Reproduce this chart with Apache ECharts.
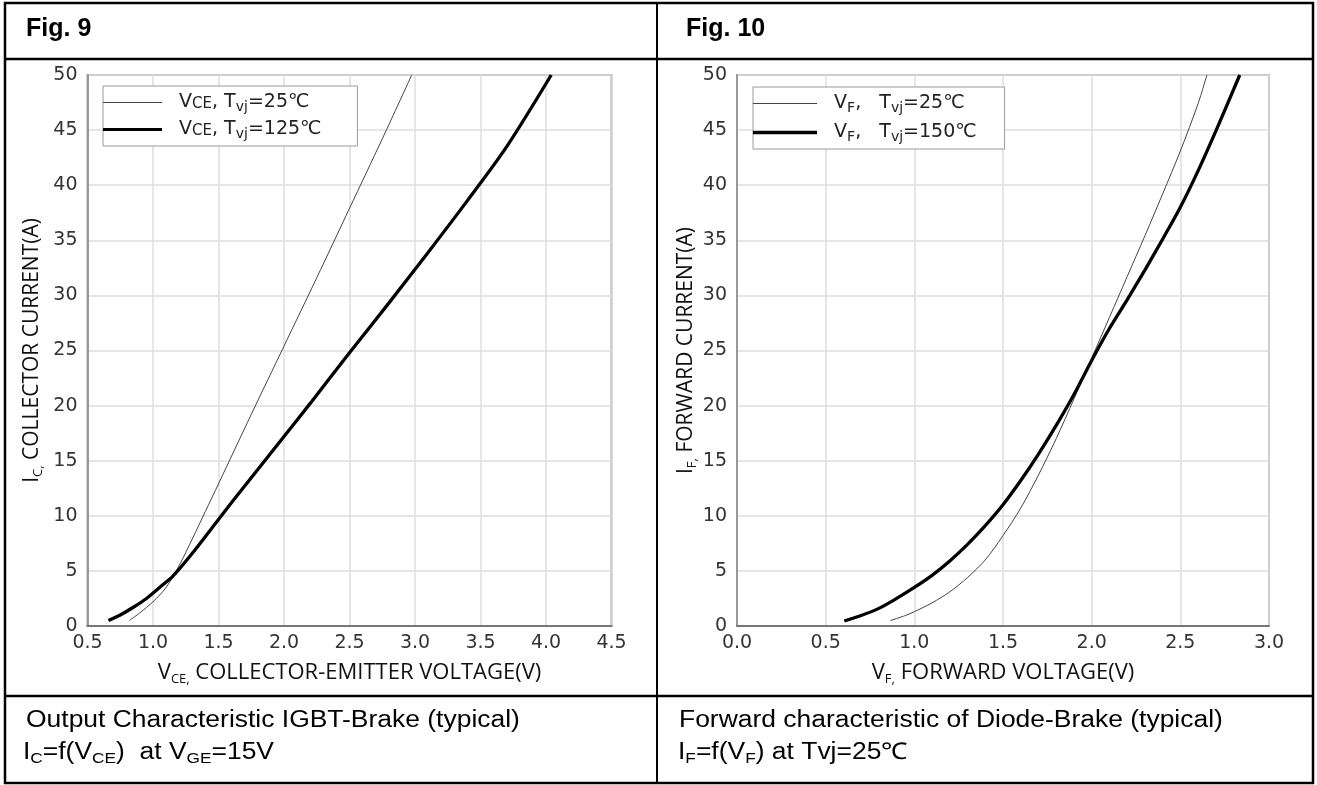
<!DOCTYPE html>
<html>
<head>
<meta charset="utf-8">
<script src="https://cdn.jsdelivr.net/npm/echarts@6/dist/echarts.min.js"></script>
<style>
html,body{margin:0;padding:0;background:#fff;}
#c{width:1317px;height:785px;}
</style>
</head>
<body>
<div id="c"></div>
<script>
// ---------- data ----------
// Fig. 9  IGBT output characteristic  (VCE in V, IC in A)
const igbt25_v  = [0.82,0.9,1.0,1.1,1.2,1.3,1.4,1.5,1.75,2.0,2.25,2.5,2.75,2.975];
const igbt25_i  = [0.5,1.2,2.2,3.5,5.5,7.9,10.4,12.9,19.2,25.4,31.6,37.9,44.2,50];
const igbt125_v = [0.66,0.75,0.85,0.95,1.05,1.15,1.3,1.45,1.6,1.8,2.0,2.2,2.5,2.8,3.1,3.4,3.7,4.04];
const igbt125_i = [0.5,1.0,1.7,2.5,3.5,4.5,6.6,8.9,11.2,14.2,17.2,20.2,24.8,29.3,33.9,38.6,43.5,50];
// Fig. 10  Diode forward characteristic  (VF in V, IF in A)
const diode25_v  = [0.865,0.95,1.0,1.1,1.2,1.3,1.4,1.5,1.6,1.7,1.8,1.9,2.0,2.1,2.2,2.3,2.4,2.5,2.6,2.65];
const diode25_i  = [0.5,0.95,1.3,2.1,3.1,4.4,6.0,8.2,10.7,13.7,17.0,20.6,24.3,28.0,31.7,35.4,39.2,43.1,47.4,50];
const diode150_v = [0.605,0.7,0.8,0.9,1.0,1.1,1.2,1.3,1.4,1.5,1.6,1.7,1.8,1.9,2.0,2.1,2.2,2.3,2.4,2.5,2.6,2.7,2.835];
const diode150_i = [0.45,0.95,1.6,2.5,3.5,4.6,5.9,7.4,9.1,11.0,13.2,15.6,18.2,21.0,24.1,27.0,29.6,32.3,35.1,38.0,41.3,44.9,50];

// axis ranges / ticks
const x1Range = [0.5, 4.5];
const x2Range = [0.0, 3.0];
const yRange  = [0, 50];
const xStep = 0.5, yStep = 5;

// series names
const names = ['VCE, Tvj=25℃', 'VCE, Tvj=125℃', 'VF, Tvj=25℃', 'VF, Tvj=150℃'];

const zip = (a, b) => a.map((v, i) => [v, b[i]]);

const chart = echarts.init(document.getElementById('c'));

const sansA = 'Liberation Sans, Arial, sans-serif';
const sansT = 'DejaVu Sans, sans-serif';
const sansO = 'Open Sans, sans-serif';

const legendRich = {
  n: {fontFamily: sansT, fontSize: 19, color: '#222', lineHeight: 22},
  c: {fontFamily: sansT, fontSize: 15, color: '#222', lineHeight: 22, padding: [3, 0, 0, 0]},
  s: {fontFamily: sansT, fontSize: 14, color: '#222', lineHeight: 22, padding: [9, 0, 0, 0]}
};
const legendLabel = {
  'VCE, Tvj=25℃':  '{n|  V}{c|CE}{n|, T}{s|vj}{n|=25℃}',
  'VCE, Tvj=125℃': '{n|  V}{c|CE}{n|, T}{s|vj}{n|=125℃}',
  'VF, Tvj=25℃':   '{n|  V}{s|F}{n|,   T}{s|vj}{n|=25℃}',
  'VF, Tvj=150℃':  '{n|  V}{s|F}{n|,   T}{s|vj}{n|=150℃}'
};
// legend line samples (thin / thick)
const thinIcon  = 'path://M0,0H60V1H0Z';
const thickIcon = 'path://M0,0H60V3.3H0Z';

const nameRich = (size) => ({
  n: {fontFamily: sansO, fontSize: size, color: '#111', lineHeight: 26},
  s: {fontFamily: sansO, fontSize: 13, color: '#111', lineHeight: 26, padding: [12, 0, 0, 0]}
});
const capRich = {
  n: {fontFamily: sansA, fontSize: 23, color: '#111', lineHeight: 28},
  s: {fontFamily: sansA, fontSize: 15, color: '#111', lineHeight: 28, padding: [12, 0, 0, 0]}
};

function xAxisCfg(idx, range, title) {
  return {
    type: 'value', gridIndex: idx, min: range[0], max: range[1], interval: xStep,
    name: title, nameLocation: 'middle', nameGap: 34,
    nameTextStyle: {rich: nameRich(22)},
    axisLine: {show: true, onZero: false, lineStyle: {color: '#777', width: 2}},
    axisTick: {show: false},
    axisLabel: {margin: 8, color: '#333', fontFamily: sansT, fontSize: 19,
      formatter: v => v.toFixed(1)},
    splitLine: {show: true, lineStyle: {color: '#dedede', width: 1.5}}
  };
}
function yAxisCfg(idx, title, gap) {
  return {
    type: 'value', gridIndex: idx, min: yRange[0], max: yRange[1], interval: yStep,
    name: title, nameLocation: 'middle', nameGap: gap,
    nameTextStyle: {rich: nameRich(21)},
    axisLine: {show: true, lineStyle: {color: '#999', width: 2}},
    axisTick: {show: false},
    axisLabel: {margin: 10, color: '#333', fontFamily: sansT, fontSize: 19},
    splitLine: {show: true, lineStyle: {color: '#dedede', width: 1.5}}
  };
}
function lineSeries(name, xi, data, width, color) {
  return {
    type: 'line', name, xAxisIndex: xi, yAxisIndex: xi, data,
    smooth: 0.3, symbol: 'none', silent: true,
    lineStyle: {width, color}, itemStyle: {color}, z: width > 2 ? 4 : 3
  };
}
function legendCfg(left, top, w, gap, padR, thinName, thickName) {
  return {
    data: [{name: thinName, icon: thinIcon}, {name: thickName, icon: thickIcon}],
    left, top, orient: 'vertical',
    itemWidth: w, itemHeight: 14, itemGap: gap, padding: [5, padR, 5, 0],
    borderColor: '#999', borderWidth: 1, backgroundColor: '#fff',
    selectedMode: false, formatter: n => legendLabel[n], textStyle: {rich: legendRich}
  };
}

const option = {
  backgroundColor: '#fff',
  animation: false,
  grid: [
    {left: 87.5, top: 75, width: 524, height: 551, show: true, borderColor: '#a0a0a0', borderWidth: 2, backgroundColor: 'transparent'},
    {left: 737, top: 75, width: 532, height: 551, show: true, borderColor: '#a0a0a0', borderWidth: 2, backgroundColor: 'transparent'}
  ],
  xAxis: [
    xAxisCfg(0, x1Range, '{n|V}{s|CE,}{n| COLLECTOR-EMITTER VOLTAGE(V)}'),
    xAxisCfg(1, x2Range, '{n|V}{s|F,}{n| FORWARD VOLTAGE(V)}')
  ],
  yAxis: [
    yAxisCfg(0, '{n|I}{s|C,}{n| COLLECTOR CURRENT(A)}', 42),
    yAxisCfg(1, '{n|I}{s|F,}{n| FORWARD CURRENT(A)}', 28)
  ],
  legend: [
    legendCfg(103, 86, 59, 4, 36, names[0], names[1]),
    legendCfg(753, 87, 64, 6, 28, names[2], names[3])
  ],
  series: [
    lineSeries(names[0], 0, zip(igbt25_v, igbt25_i), 1, '#444'),
    lineSeries(names[1], 0, zip(igbt125_v, igbt125_i), 3.3, '#000'),
    lineSeries(names[2], 1, zip(diode25_v, diode25_i), 1, '#444'),
    lineSeries(names[3], 1, zip(diode150_v, diode150_i), 3.3, '#000')
  ],
  graphic: [
    // table frame
    {type: 'rect', shape: {x: 5, y: 3, width: 1308, height: 780}, style: {fill: 'none', stroke: '#000', lineWidth: 2.5}, silent: true},
    {type: 'line', shape: {x1: 5, y1: 59, x2: 1313, y2: 59}, style: {stroke: '#000', lineWidth: 2.5}, silent: true},
    {type: 'line', shape: {x1: 5, y1: 696, x2: 1313, y2: 696}, style: {stroke: '#000', lineWidth: 2.5}, silent: true},
    {type: 'line', shape: {x1: 657, y1: 3, x2: 657, y2: 783}, style: {stroke: '#000', lineWidth: 2}, silent: true},
    // figure headers
    {type: 'text', x: 26, y: 29, style: {text: 'Fig. 9', font: 'bold 25px Liberation Sans, Arial, sans-serif', fill: '#000', verticalAlign: 'middle'}},
    {type: 'text', x: 686, y: 29, style: {text: 'Fig. 10', font: 'bold 25px Liberation Sans, Arial, sans-serif', fill: '#000', verticalAlign: 'middle'}},
    // captions
    {type: 'text', x: 26, y: 721, scaleX: 1.15, style: {text: '{n|Output Characteristic IGBT-Brake (typical)}', rich: capRich, verticalAlign: 'middle'}},
    {type: 'text', x: 23, y: 753, scaleX: 1.15, style: {text: '{n|I}{s|C}{n|=f(V}{s|CE}{n|)  at V}{s|GE}{n|=15V}', rich: capRich, verticalAlign: 'middle'}},
    {type: 'text', x: 679, y: 721, scaleX: 1.15, style: {text: '{n|Forward characteristic of Diode-Brake (typical)}', rich: capRich, verticalAlign: 'middle'}},
    {type: 'text', x: 678, y: 753, scaleX: 1.15, style: {text: '{n|I}{s|F}{n|=f(V}{s|F}{n|) at Tvj=25℃}', rich: capRich, verticalAlign: 'middle'}}
  ]
};
chart.setOption(option);
</script>
</body>
</html>
